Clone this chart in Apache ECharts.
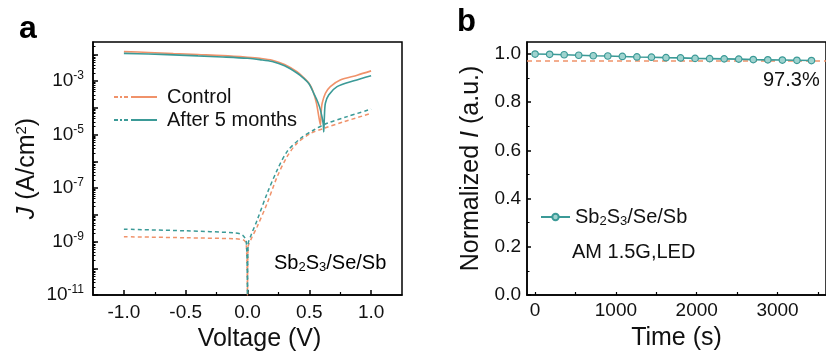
<!DOCTYPE html>
<html>
<head>
<meta charset="utf-8">
<script src="https://cdn.jsdelivr.net/npm/echarts@6/dist/echarts.min.js"></script>
<style>
  html, body { margin: 0; padding: 0; background: #fff; }
  #chart { width: 826px; height: 358px; }
</style>
</head>
<body>
<div id="chart"></div>
<script>
// panel a: J-V curves, log10(J) in A/cm2
const ctrlLightV = [-1.0, -0.8, -0.6, -0.4, -0.2, 0, 0.1, 0.2, 0.3, 0.4, 0.45, 0.5, 0.53, 0.558, 0.577, 0.59, 0.597, 0.604, 0.63, 0.67, 0.75, 0.887, 1.0];
const ctrlLightJ = [-1.90, -1.93, -1.97, -2.01, -2.05, -2.11, -2.15, -2.22, -2.38, -2.65, -2.85, -3.10, -3.38, -3.83, -4.33, -4.64, -4.10, -3.83, -3.46, -3.21, -2.96, -2.78, -2.62];
const aftLightV = [-1.0, -0.8, -0.6, -0.4, -0.2, 0, 0.1, 0.2, 0.3, 0.4, 0.45, 0.5, 0.536, 0.57, 0.59, 0.612, 0.617, 0.622, 0.63, 0.657, 0.725, 0.86, 1.0];
const aftLightJ = [-1.965, -1.99, -2.02, -2.06, -2.10, -2.15, -2.20, -2.27, -2.43, -2.70, -2.88, -3.12, -3.46, -3.80, -4.08, -4.58, -4.90, -4.35, -3.83, -3.52, -3.21, -2.99, -2.80];
const ctrlDarkV = [-1.0, -0.5, -0.1, -0.03, -0.01, 0, 0.005, 0.03, 0.078, 0.159, 0.24, 0.32, 0.40, 0.51, 0.617, 0.78, 1.0];
const ctrlDarkJ = [-8.82, -8.86, -8.90, -8.95, -9.10, -11, -9.20, -8.90, -8.45, -7.57, -6.58, -5.83, -5.33, -4.96, -4.77, -4.52, -4.21];
const aftDarkV = [-1.0, -0.5, -0.1, -0.04, -0.01, 0, 0.005, 0.03, 0.078, 0.159, 0.24, 0.32, 0.43, 0.536, 0.644, 0.806, 1.0];
const aftDarkJ = [-8.54, -8.60, -8.68, -8.76, -9.0, -11, -9.1, -8.75, -8.2, -7.2, -6.33, -5.64, -5.14, -4.83, -4.58, -4.33, -4.05];

// panel b: stability
const timeS = [0, 180, 360, 540, 720, 900, 1080, 1260, 1440, 1620, 1800, 1980, 2160, 2340, 2520, 2700, 2880, 3060, 3240, 3420];
const normI = [1.000, 0.999, 0.997, 0.995, 0.993, 0.992, 0.990, 0.988, 0.987, 0.985, 0.984, 0.982, 0.981, 0.980, 0.979, 0.977, 0.976, 0.975, 0.974, 0.973];
const retention = 0.971;

// ticks
const vLabels = [-1, -0.5, 0, 0.5, 1];
const vMinor = [-0.75, -0.25, 0.25, 0.75];
const decades = [-11, -10, -9, -8, -7, -6, -5, -4, -3, -2];
const decadeLabels = [-11, -9, -7, -5, -3];
const tLabels = [0, 1000, 2000, 3000];
const tMinor = [500, 1500, 2500, 3500];
const iLabels = [0, 0.2, 0.4, 0.6, 0.8, 1.0];
const iMinor = [0.1, 0.3, 0.5, 0.7, 0.9];

const ORANGE = '#f0926a';
const TEAL = '#3b9a97';
const FONT = 'Liberation Sans, Arial, sans-serif';

const logMax = -1.54;
const logMinor = [];
decades.forEach(n => {
  for (let k = 2; k <= 9; k++) {
    const v = n + Math.log10(k);
    if (v < logMax) logMinor.push(v);
  }
});

const pairs = (xs, ys) => xs.map((x, i) => [x, ys[i]]);

const legendIcon = 'path://M0,0h4v2h-4z M6,0h2v2h-2z M10,0h4v2h-4z M17,0h26v2h-26z';
const subRich = {
  n: { fontSize: 20, fontFamily: FONT, color: '#111' },
  d: { fontSize: 13, fontFamily: FONT, color: '#111', padding: [9, 0, 0, 0] }
};

const baseAxis = {
  axisLine: { show: true, onZero: false, lineStyle: { color: '#000', width: 1.5 } },
  splitLine: { show: false },
  axisLabel: { fontFamily: FONT, fontSize: 19, color: '#111' },
  nameTextStyle: { fontFamily: FONT, fontSize: 25, color: '#111' }
};
const minorAxis = (extra) => Object.assign({
  axisLine: { show: false, onZero: false },
  splitLine: { show: false },
  axisLabel: { show: false }
}, extra);

const chart = echarts.init(document.getElementById('chart'));
chart.setOption({
  animation: false,
  grid: [
    { left: 93, top: 42, width: 309, height: 253, show: true, borderColor: '#000', borderWidth: 1.5 },
    { left: 527, top: 42, width: 310, height: 253, show: true, borderColor: '#000', borderWidth: 1.5 }
  ],
  xAxis: [
    Object.assign({}, baseAxis, {
      type: 'value', gridIndex: 0, position: 'bottom', min: -1.25, max: 1.25,
      name: 'Voltage (V)', nameLocation: 'middle', nameGap: 31,
      nameTextStyle: Object.assign({}, baseAxis.nameTextStyle, { padding: [0, 0, 0, 24] }),
      axisTick: { inside: true, length: 5, customValues: vLabels, lineStyle: { color: '#000', width: 1.5 } },
      axisLabel: Object.assign({}, baseAxis.axisLabel, { margin: 8, customValues: vLabels, formatter: v => v.toFixed(1) })
    }),
    minorAxis({
      type: 'value', gridIndex: 0, position: 'bottom', min: -1.25, max: 1.25,
      axisTick: { inside: true, length: 3, customValues: vMinor, lineStyle: { color: '#000', width: 1.2 } }
    }),
    Object.assign({}, baseAxis, {
      type: 'value', gridIndex: 1, position: 'bottom', min: -100, max: 3600,
      name: 'Time (s)', nameLocation: 'middle', nameGap: 31,
      axisTick: { inside: true, length: 3, customValues: tLabels, lineStyle: { color: '#000', width: 1.2 } },
      axisLabel: Object.assign({}, baseAxis.axisLabel, { margin: 6, customValues: tLabels, formatter: v => String(v) })
    }),
    minorAxis({
      type: 'value', gridIndex: 1, position: 'bottom', min: -100, max: 3600,
      axisTick: { inside: true, length: 3, customValues: tMinor, lineStyle: { color: '#000', width: 1.2 } }
    })
  ],
  yAxis: [
    Object.assign({}, baseAxis, {
      type: 'value', gridIndex: 0, position: 'left', min: -11, max: logMax,
      name: '{i|J} (A/cm{s|2})', nameLocation: 'middle', nameGap: 52,
      nameTextStyle: Object.assign({}, baseAxis.nameTextStyle, {
        rich: {
          i: { fontFamily: FONT, fontSize: 25, fontStyle: 'italic', color: '#111' },
          s: { fontFamily: FONT, fontSize: 15, color: '#111', padding: [0, 0, 12, 0] }
        }
      }),
      axisTick: { inside: true, length: 5, customValues: decades, lineStyle: { color: '#000', width: 1.5 } },
      axisLabel: Object.assign({}, baseAxis.axisLabel, {
        margin: 9, customValues: decadeLabels,
        formatter: v => '{b|10}{s|' + v + '}',
        rich: {
          b: { fontFamily: FONT, fontSize: 19, color: '#111' },
          s: { fontFamily: FONT, fontSize: 12, color: '#111', padding: [0, 0, 10, 0] }
        }
      })
    }),
    minorAxis({
      type: 'value', gridIndex: 0, position: 'left', min: -11, max: logMax,
      axisTick: { inside: true, length: 2.5, customValues: logMinor, lineStyle: { color: '#000', width: 1 } }
    }),
    Object.assign({}, baseAxis, {
      type: 'value', gridIndex: 1, position: 'left', min: 0, max: 1.05,
      name: 'Normalized {i|I} (a.u.)', nameLocation: 'middle', nameGap: 43,
      nameTextStyle: Object.assign({}, baseAxis.nameTextStyle, {
        rich: { i: { fontFamily: FONT, fontSize: 25, fontStyle: 'italic', color: '#111' } }
      }),
      axisTick: { inside: true, length: 4, customValues: iLabels, lineStyle: { color: '#000', width: 1.5 } },
      axisLabel: Object.assign({}, baseAxis.axisLabel, { margin: 6, customValues: iLabels, formatter: v => v.toFixed(1) })
    }),
    minorAxis({
      type: 'value', gridIndex: 1, position: 'left', min: 0, max: 1.05,
      axisTick: { inside: true, length: 2.5, customValues: iMinor, lineStyle: { color: '#000', width: 1 } }
    })
  ],
  legend: [
    {
      orient: 'vertical', left: 109, top: 82, itemWidth: 43, itemHeight: 3, itemGap: 3,
      textStyle: { fontFamily: FONT, fontSize: 20, color: '#111', padding: [0, 0, 0, 5] },
      data: [
        { name: 'Control', icon: legendIcon, itemStyle: { color: ORANGE } },
        { name: 'After 5 months', icon: legendIcon, itemStyle: { color: TEAL } }
      ]
    },
    {
      orient: 'vertical', left: 535, top: 202, itemWidth: 29, itemHeight: 8,
      textStyle: { rich: subRich },
      formatter: () => '{n|Sb}{d|2}{n|S}{d|3}{n|/Se/Sb}',
      data: ['Sb2S3/Se/Sb']
    }
  ],
  series: [
    {
      name: 'Control', type: 'line', xAxisIndex: 0, yAxisIndex: 0, showSymbol: false, smooth: 0.3,
      data: pairs(ctrlDarkV, ctrlDarkJ), itemStyle: { color: ORANGE },
      lineStyle: { color: ORANGE, width: 1.5, type: [4, 3] }
    },
    {
      name: 'After 5 months', type: 'line', xAxisIndex: 0, yAxisIndex: 0, showSymbol: false, smooth: 0.3,
      data: pairs(aftDarkV, aftDarkJ), itemStyle: { color: TEAL },
      lineStyle: { color: TEAL, width: 1.5, type: [4, 3] }
    },
    {
      name: 'Control', type: 'line', xAxisIndex: 0, yAxisIndex: 0, showSymbol: false, smooth: 0.3,
      data: pairs(ctrlLightV, ctrlLightJ), itemStyle: { color: ORANGE },
      lineStyle: { color: ORANGE, width: 1.6 }
    },
    {
      name: 'After 5 months', type: 'line', xAxisIndex: 0, yAxisIndex: 0, showSymbol: false, smooth: 0.3,
      data: pairs(aftLightV, aftLightJ), itemStyle: { color: TEAL },
      lineStyle: { color: TEAL, width: 1.6 }
    },
    {
      name: 'retention', type: 'line', xAxisIndex: 2, yAxisIndex: 2, showSymbol: false,
      data: [[-100, retention], [3600, retention]],
      lineStyle: { color: ORANGE, width: 1.5, type: [5, 4] }
    },
    {
      name: 'Sb2S3/Se/Sb', type: 'line', xAxisIndex: 2, yAxisIndex: 2,
      symbol: 'circle', symbolSize: 6.5,
      data: pairs(timeS, normI),
      itemStyle: { color: '#9fd3cf', borderColor: TEAL, borderWidth: 1.2 },
      lineStyle: { color: TEAL, width: 1.6 }
    }
  ],
  graphic: [
    { type: 'text', left: 19, top: 13, style: { text: 'a', fontFamily: FONT, fontSize: 32, fontWeight: 'bold', fill: '#000' } },
    { type: 'text', left: 457, top: 7, style: { text: 'b', fontFamily: FONT, fontSize: 31, fontWeight: 'bold', fill: '#000' } },
    { type: 'text', left: 274, top: 253, style: { text: '{n|Sb}{d|2}{n|S}{d|3}{n|/Se/Sb}', rich: subRich } },
    { type: 'text', left: 763, top: 70, style: { text: '97.3%', fontFamily: FONT, fontSize: 20, fill: '#111' } },
    { type: 'text', left: 572, top: 242, style: { text: 'AM 1.5G,LED', fontFamily: FONT, fontSize: 20, fill: '#111' } }
  ]
});
</script>
</body>
</html>
